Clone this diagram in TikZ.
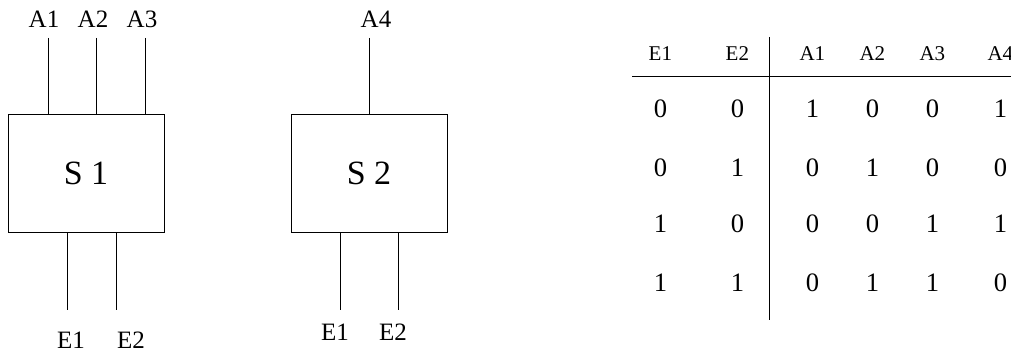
\documentclass[tikz,border=0pt]{standalone}
\usepackage{fontspec}
\setmainfont{Liberation Serif}
\usetikzlibrary{matrix, positioning, calc}
\tikzset{
  % switch block
  block/.style={
    draw
    , line width=0.5pt
    , minimum width=78pt
    , minimum height=58.5pt
    , inner sep=0pt
    , anchor=center
    , font=\fontsize{17}{20}\selectfont
  },
}
\tikzset{
  % wire style
  wire/.style={
    line width=0.5pt
  },
}
\tikzset{
  % wire label
  plabel/.style={
    inner sep=0pt
    , anchor=base
    , font=\fontsize{12.5}{14}\selectfont
  },
}
\tikzset{
  % truth table cell
  cell/.style={
    inner sep=0pt
    , minimum width=24pt
    , minimum height=20pt
    , anchor=center
    , font=\fontsize{13.3}{15}\selectfont
  },
}

\begin{document}
\begin{tikzpicture}[x=0.5pt, y=-0.5pt]
  \useasboundingbox (0,0) rectangle (1011,353);

  % S1
  \node[block] (s1) at (86,173.5) {S 1};
  \coordinate (s1-a1) at (48,38);
  \coordinate (s1-a2) at (96,38);
  \coordinate (s1-a3) at (145,38);
  \coordinate (s1-e1) at (67,310);
  \coordinate (s1-e2) at (116,310);
  \foreach \p in {a1, a2, a3}
    \draw[wire] (s1-\p) -- (s1-\p |- s1.north);
  \foreach \p in {e1, e2}
    \draw[wire] (s1-\p |- s1.south) -- (s1-\p);
  \node[plabel] (l1-a1) at (44,28) {A1};
  \node[plabel] (l1-a2) at (93,28) {A2};
  \node[plabel] (l1-a3) at (142,28) {A3};
  \node[plabel] (l1-e1) at (71,348) {E1};
  \node[plabel] (l1-e2) at (131,348) {E2};

  % S2
  \node[block] (s2) at (369,173.5) {S 2};
  \coordinate (s2-a4) at (369,38);
  \coordinate (s2-e1) at (340,310);
  \coordinate (s2-e2) at (398,310);
  \draw[wire] (s2-a4) -- (s2-a4 |- s2.north);
  \foreach \p in {e1, e2}
    \draw[wire] (s2-\p |- s2.south) -- (s2-\p);
  \node[plabel] (l2-a4) at (376,28) {A4};
  \node[plabel] (l2-e1) at (335,340) {E1};
  \node[plabel] (l2-e2) at (393,340) {E2};

  % truth table
  \matrix (tt) [matrix of nodes
                , anchor=north west
                , inner sep=0pt
                , column sep=6pt
                , row sep=7.5pt
                , nodes={cell}
                , row 1/.style={nodes={font=\fontsize{10.5}{12}\selectfont}}
                , ampersand replacement=\&
               ] at (636,33)
  {
    E1 \&[8.5pt] E2 \&[7.5pt] A1 \& A2 \& A3 \&[4pt] A4 \\
    0 \& 0 \& 1 \& 0 \& 0 \& 1 \\[2pt]
    0 \& 1 \& 0 \& 1 \& 0 \& 0 \\[0.5pt]
    1 \& 0 \& 0 \& 0 \& 1 \& 1 \\[2pt]
    1 \& 1 \& 0 \& 1 \& 1 \& 0 \\
  }; % matrix
  \coordinate (hl-w) at (632,77);
  \coordinate (hl-e) at (1011,77);
  \coordinate (vl-n) at (769,37);
  \coordinate (vl-s) at (769,320);
  \draw[wire] (hl-w) -- (hl-e);
  \draw[wire] (vl-n) -- (vl-s);
\end{tikzpicture}
\end{document}
